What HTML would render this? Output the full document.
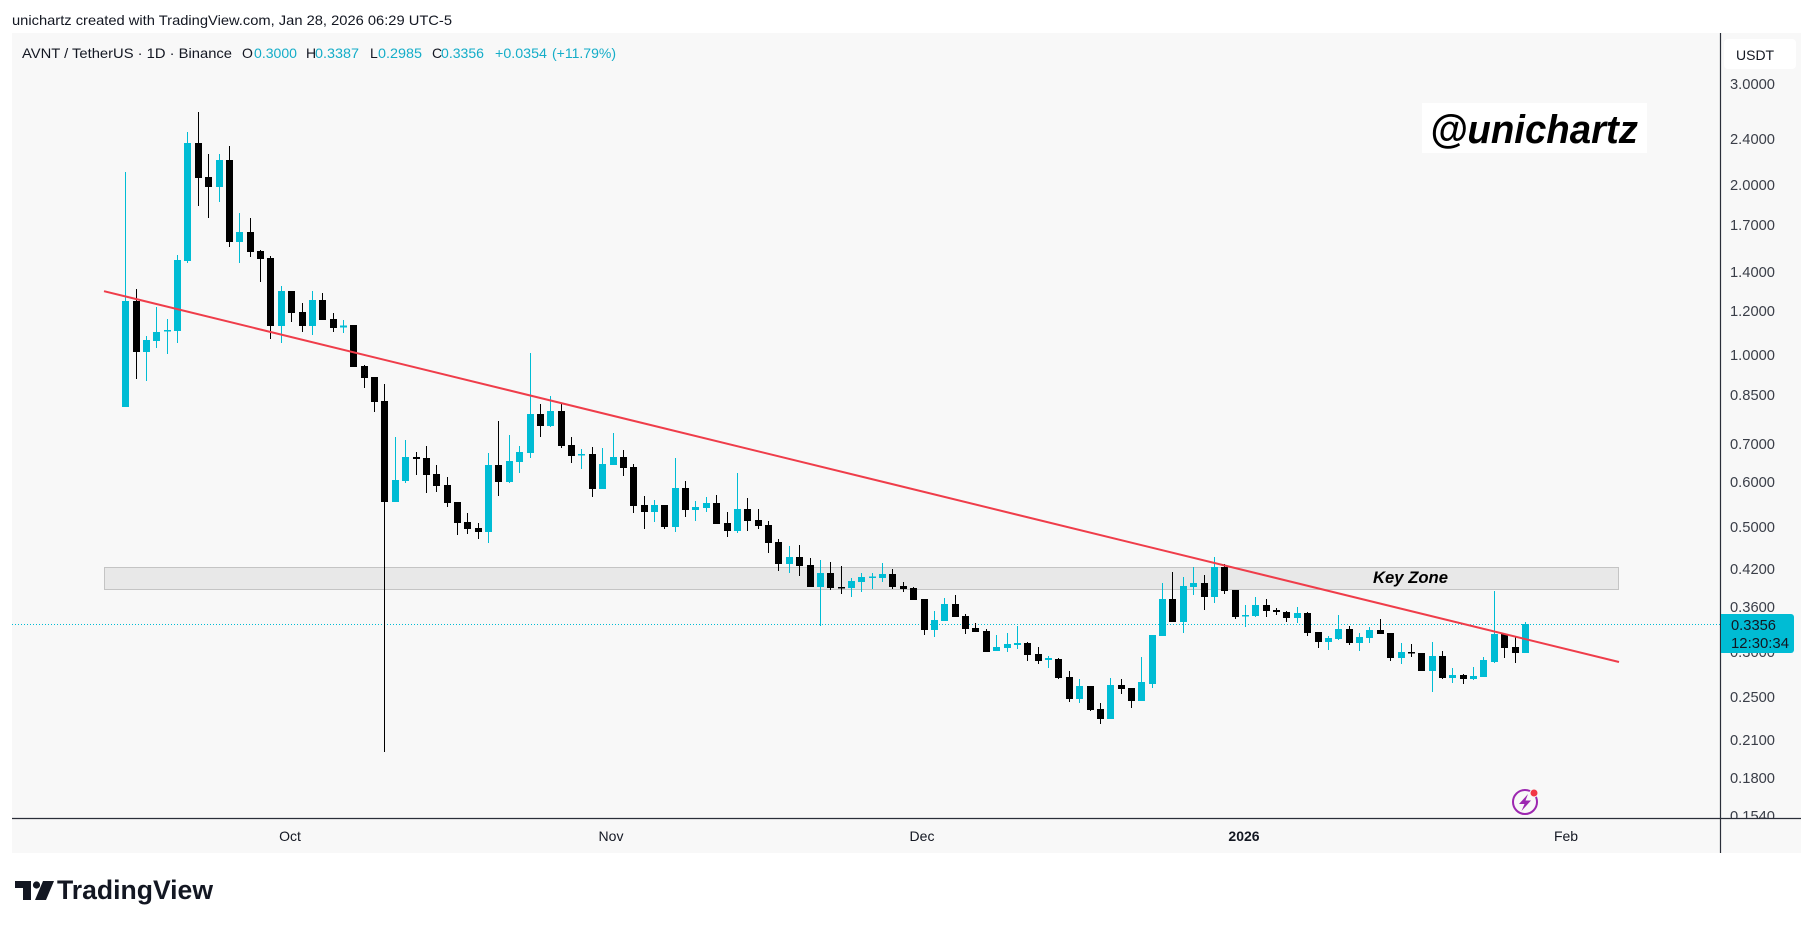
<!DOCTYPE html>
<html><head><meta charset="utf-8"><style>
html,body{margin:0;padding:0;background:#fff;}
svg{display:block;}
text{font-family:"Liberation Sans",sans-serif;}
</style></head><body>
<svg width="1814" height="928" viewBox="0 0 1814 928" xmlns="http://www.w3.org/2000/svg">
<defs><clipPath id="cp"><rect x="12" y="33" width="1708" height="785"/></clipPath>
<clipPath id="ap"><rect x="1721" y="33" width="80" height="785"/></clipPath></defs>
<rect x="0" y="0" width="1814" height="928" fill="#ffffff"/>
<text x="12" y="25" font-size="14" fill="#131722" textLength="440" lengthAdjust="spacingAndGlyphs">unichartz created with TradingView.com, Jan 28, 2026 06:29 UTC-5</text>
<rect x="12" y="33" width="1789" height="820" fill="#f8f8f8"/>
<g font-size="14">
<text x="22" y="58" fill="#131722" textLength="210" lengthAdjust="spacingAndGlyphs">AVNT / TetherUS · 1D · Binance</text>
<text x="242" y="58" fill="#131722">O</text><text x="254" y="58" fill="#14adc8" textLength="43" lengthAdjust="spacingAndGlyphs">0.3000</text>
<text x="306" y="58" fill="#131722">H</text><text x="315" y="58" fill="#14adc8" textLength="44" lengthAdjust="spacingAndGlyphs">0.3387</text>
<text x="370" y="58" fill="#131722">L</text><text x="378" y="58" fill="#14adc8" textLength="44" lengthAdjust="spacingAndGlyphs">0.2985</text>
<text x="432" y="58" fill="#131722">C</text><text x="441" y="58" fill="#14adc8" textLength="43" lengthAdjust="spacingAndGlyphs">0.3356</text>
<text x="495" y="58" fill="#14adc8" textLength="52" lengthAdjust="spacingAndGlyphs">+0.0354</text>
<text x="552" y="58" fill="#14adc8" textLength="64" lengthAdjust="spacingAndGlyphs">(+11.79%)</text>
</g>
<g clip-path="url(#cp)">
<rect x="1422" y="103" width="225" height="50" fill="#ffffff"/>
<text x="1430" y="143" font-size="40" font-weight="bold" font-style="italic" fill="#000" textLength="208" lengthAdjust="spacingAndGlyphs">@unichartz</text>
<rect x="104.5" y="567.5" width="1514" height="22" fill="#e8e8e8" stroke="#c4c4c4" stroke-width="1"/>
<text x="1373" y="583" font-size="17" font-weight="bold" font-style="italic" fill="#000" textLength="75" lengthAdjust="spacingAndGlyphs">Key Zone</text>
<line x1="12" y1="624.5" x2="1720" y2="624.5" stroke="#00bcd4" stroke-width="1" stroke-dasharray="1 2"/>
<path fill="none" stroke="#00bcd4" stroke-width="1" d="M125.5 172V407M146.5 336V381M156.5 307V348M167.5 319V354M177.5 255V343M187.5 132V263M219.5 154V202M239.5 213V263M281.5 286V343M312.5 291V335M343.5 320V333M395.5 437V502M405.5 440V483M488.5 453V543M509.5 435V483M519.5 446V473M530.5 353V458M550.5 396V427M581.5 449V469M602.5 448V489M613.5 433V465M654.5 500V522M675.5 458V532M695.5 501V521M706.5 497V512M737.5 473V533M789.5 546V573M820.5 560V626M851.5 578V597M861.5 573V592M872.5 573V589M882.5 563V582M934.5 611V637M944.5 598V621M996.5 635V651M1007.5 633V652M1017.5 626V649M1048.5 656V668M1079.5 679V703M1110.5 678V719M1141.5 657V701M1152.5 635V688M1162.5 583V636M1183.5 577V633M1193.5 567V595M1214.5 557V603M1245.5 605V627M1255.5 597V617M1297.5 607V623M1328.5 636V650M1338.5 615V640M1359.5 633V651M1369.5 627V643M1401.5 643V664M1432.5 642V692M1452.5 668V683M1473.5 667V680M1483.5 657V677M1494.5 591V663M1525.5 622V653"/>
<path fill="none" stroke="#000" stroke-width="1" d="M136.5 289V379M198.5 112V206M208.5 154V218M229.5 146V247M250.5 218V257M260.5 250V282M270.5 256V339M291.5 291V322M302.5 303V332M322.5 293V320M333.5 313V332M353.5 325V367M364.5 365V388M374.5 377V412M384.5 384V752M416.5 452V475M426.5 446V493M436.5 465V492M447.5 477V507M457.5 502V535M467.5 513V534M478.5 523V539M498.5 421V496M540.5 404V437M561.5 403V448M571.5 437V463M592.5 447V497M623.5 450V476M633.5 464V513M644.5 496V529M664.5 505V529M685.5 481V517M716.5 495V524M727.5 512V537M747.5 498V531M758.5 509V529M768.5 521V553M778.5 539V571M799.5 545V576M810.5 558V587M830.5 562V590M841.5 566V594M892.5 569V589M903.5 582V592M913.5 587V600M924.5 599V635M955.5 595V617M965.5 614V634M975.5 623V632M986.5 629V652M1027.5 642V661M1038.5 647V664M1058.5 658V679M1069.5 671V702M1090.5 686V711M1100.5 703V724M1121.5 679V694M1131.5 688V708M1172.5 572V622M1204.5 575V610M1224.5 564V594M1235.5 590V619M1266.5 599V617M1276.5 608V615M1286.5 611V622M1307.5 612V636M1318.5 632V648M1349.5 626V645M1380.5 619V634M1390.5 633V661M1411.5 644V657M1421.5 653V671M1442.5 651V679M1463.5 674V684M1504.5 634V658M1515.5 637V663"/>
<g fill="#00bcd4">
<rect x="122" y="301" width="7" height="106"/><rect x="143" y="340" width="7" height="12"/><rect x="153" y="332" width="7" height="9"/><rect x="164" y="330" width="7" height="1.5"/><rect x="174" y="260" width="7" height="71"/><rect x="184" y="143" width="7" height="118"/><rect x="216" y="160" width="7" height="27"/><rect x="236" y="232" width="7" height="10"/><rect x="278" y="291" width="7" height="35"/><rect x="309" y="300" width="7" height="26"/><rect x="340" y="325.5" width="7" height="2"/><rect x="392" y="480" width="7" height="22"/><rect x="402" y="457" width="7" height="24"/><rect x="485" y="465" width="7" height="67"/><rect x="506" y="461" width="7" height="21"/><rect x="516" y="452" width="7" height="10"/><rect x="527" y="414" width="7" height="39"/><rect x="547" y="411" width="7" height="15"/><rect x="578" y="454" width="7" height="1.5"/><rect x="599" y="464" width="7" height="25"/><rect x="610" y="457" width="7" height="8"/><rect x="651" y="505" width="7" height="7"/><rect x="672" y="488" width="7" height="39"/><rect x="692" y="507" width="7" height="3"/><rect x="703" y="503" width="7" height="5"/><rect x="734" y="509" width="7" height="22"/><rect x="786" y="557" width="7" height="7"/><rect x="817" y="573" width="7" height="14"/><rect x="848" y="581" width="7" height="7"/><rect x="858" y="577" width="7" height="5"/><rect x="869" y="576.5" width="7" height="1.5"/><rect x="879" y="574" width="7" height="4"/><rect x="931" y="620" width="7" height="10"/><rect x="941" y="604" width="7" height="17"/><rect x="993" y="647" width="7" height="4"/><rect x="1004" y="644" width="7" height="4"/><rect x="1014" y="643" width="7" height="2"/><rect x="1045" y="658" width="7" height="2"/><rect x="1076" y="686" width="7" height="13"/><rect x="1107" y="685" width="7" height="34"/><rect x="1138" y="682" width="7" height="19"/><rect x="1149" y="635" width="7" height="49"/><rect x="1159" y="599" width="7" height="37"/><rect x="1180" y="586" width="7" height="36"/><rect x="1190" y="583" width="7" height="4"/><rect x="1211" y="567" width="7" height="30"/><rect x="1242" y="615" width="7" height="1.5"/><rect x="1252" y="605" width="7" height="11"/><rect x="1294" y="613" width="7" height="5"/><rect x="1325" y="638" width="7" height="4"/><rect x="1335" y="629" width="7" height="10"/><rect x="1356" y="637" width="7" height="6"/><rect x="1366" y="630" width="7" height="8"/><rect x="1398" y="652" width="7" height="6"/><rect x="1429" y="656" width="7" height="15"/><rect x="1449" y="675" width="7" height="3"/><rect x="1470" y="676" width="7" height="3"/><rect x="1480" y="660" width="7" height="17"/><rect x="1491" y="634" width="7" height="28"/><rect x="1522" y="624" width="7" height="29"/>
</g>
<g fill="#000">
<rect x="133" y="301" width="7" height="51"/><rect x="195" y="143" width="7" height="35"/><rect x="205" y="177" width="7" height="10"/><rect x="226" y="160" width="7" height="82"/><rect x="247" y="232" width="7" height="20"/><rect x="257" y="251" width="7" height="8"/><rect x="267" y="258" width="7" height="68"/><rect x="288" y="291" width="7" height="22"/><rect x="299" y="312" width="7" height="14"/><rect x="319" y="300" width="7" height="20"/><rect x="330" y="319" width="7" height="9"/><rect x="350" y="325" width="7" height="42"/><rect x="361" y="366" width="7" height="12"/><rect x="371" y="377" width="7" height="25"/><rect x="381" y="401" width="7" height="101"/><rect x="413" y="457" width="7" height="2"/><rect x="423" y="458" width="7" height="17"/><rect x="433" y="474" width="7" height="12"/><rect x="444" y="485" width="7" height="18"/><rect x="454" y="502" width="7" height="21"/><rect x="464" y="522" width="7" height="7"/><rect x="475" y="528" width="7" height="4"/><rect x="495" y="465" width="7" height="17"/><rect x="537" y="414" width="7" height="12"/><rect x="558" y="411" width="7" height="35"/><rect x="568" y="445" width="7" height="11"/><rect x="589" y="454" width="7" height="35"/><rect x="620" y="457" width="7" height="11"/><rect x="630" y="467" width="7" height="39"/><rect x="641" y="505" width="7" height="7"/><rect x="661" y="505" width="7" height="22"/><rect x="682" y="488" width="7" height="22"/><rect x="713" y="503" width="7" height="21"/><rect x="724" y="523" width="7" height="8"/><rect x="744" y="509" width="7" height="12"/><rect x="755" y="520" width="7" height="6"/><rect x="765" y="525" width="7" height="18"/><rect x="775" y="542" width="7" height="22"/><rect x="796" y="557" width="7" height="9"/><rect x="807" y="565" width="7" height="22"/><rect x="827" y="573" width="7" height="15"/><rect x="838" y="587" width="7" height="1.5"/><rect x="889" y="574" width="7" height="13"/><rect x="900" y="586" width="7" height="3"/><rect x="910" y="588" width="7" height="12"/><rect x="921" y="599" width="7" height="31"/><rect x="952" y="604" width="7" height="13"/><rect x="962" y="616" width="7" height="13"/><rect x="972" y="628" width="7" height="4"/><rect x="983" y="631" width="7" height="21"/><rect x="1024" y="643" width="7" height="12"/><rect x="1035" y="654" width="7" height="7"/><rect x="1055" y="659" width="7" height="19"/><rect x="1066" y="677" width="7" height="22"/><rect x="1087" y="686" width="7" height="24"/><rect x="1097" y="709" width="7" height="10"/><rect x="1118" y="685" width="7" height="4"/><rect x="1128" y="688" width="7" height="13"/><rect x="1169" y="599" width="7" height="23"/><rect x="1201" y="583" width="7" height="14"/><rect x="1221" y="567" width="7" height="24"/><rect x="1232" y="590" width="7" height="27"/><rect x="1263" y="605" width="7" height="6"/><rect x="1273" y="610" width="7" height="2"/><rect x="1283" y="612" width="7" height="6"/><rect x="1304" y="613" width="7" height="20"/><rect x="1315" y="632" width="7" height="10"/><rect x="1346" y="629" width="7" height="14"/><rect x="1377" y="630" width="7" height="4"/><rect x="1387" y="633" width="7" height="25"/><rect x="1408" y="652" width="7" height="1.5"/><rect x="1418" y="653" width="7" height="18"/><rect x="1439" y="656" width="7" height="22"/><rect x="1460" y="675" width="7" height="4"/><rect x="1501" y="634" width="7" height="14"/><rect x="1512" y="647" width="7" height="6"/>
</g>
<line x1="104" y1="291.2" x2="1619" y2="662" stroke="#ef3d4a" stroke-width="2"/>
<circle cx="1525" cy="802" r="12" fill="none" stroke="#9c27b0" stroke-width="2"/>
<path d="M1528 794 L1519 804 H1524.5 L1521.5 811 L1531 800.5 H1525.5 Z" fill="#9c27b0"/>
<circle cx="1534" cy="793" r="4" fill="#f23645" stroke="#f8f8f8" stroke-width="1"/>
</g>
<line x1="1720.5" y1="33" x2="1720.5" y2="853" stroke="#2a2e39" stroke-width="1.2"/>
<line x1="12" y1="818.5" x2="1801" y2="818.5" stroke="#2a2e39" stroke-width="1.2"/>
<rect x="1724" y="39" width="72" height="30" rx="4" fill="#ffffff"/>
<text x="1736" y="60" font-size="14" fill="#131722">USDT</text>
<g font-size="15" fill="#3a3e48" clip-path="url(#ap)">
<text x="1730" y="89" textLength="45" lengthAdjust="spacingAndGlyphs">3.0000</text>
<text x="1730" y="144" textLength="45" lengthAdjust="spacingAndGlyphs">2.4000</text>
<text x="1730" y="190" textLength="45" lengthAdjust="spacingAndGlyphs">2.0000</text>
<text x="1730" y="230" textLength="45" lengthAdjust="spacingAndGlyphs">1.7000</text>
<text x="1730" y="277" textLength="45" lengthAdjust="spacingAndGlyphs">1.4000</text>
<text x="1730" y="316" textLength="45" lengthAdjust="spacingAndGlyphs">1.2000</text>
<text x="1730" y="360" textLength="45" lengthAdjust="spacingAndGlyphs">1.0000</text>
<text x="1730" y="400" textLength="45" lengthAdjust="spacingAndGlyphs">0.8500</text>
<text x="1730" y="449" textLength="45" lengthAdjust="spacingAndGlyphs">0.7000</text>
<text x="1730" y="487" textLength="45" lengthAdjust="spacingAndGlyphs">0.6000</text>
<text x="1730" y="532" textLength="45" lengthAdjust="spacingAndGlyphs">0.5000</text>
<text x="1730" y="574" textLength="45" lengthAdjust="spacingAndGlyphs">0.4200</text>
<text x="1730" y="612" textLength="45" lengthAdjust="spacingAndGlyphs">0.3600</text>
<text x="1730" y="657" textLength="45" lengthAdjust="spacingAndGlyphs">0.3000</text>
<text x="1730" y="702" textLength="45" lengthAdjust="spacingAndGlyphs">0.2500</text>
<text x="1730" y="745" textLength="45" lengthAdjust="spacingAndGlyphs">0.2100</text>
<text x="1730" y="783" textLength="45" lengthAdjust="spacingAndGlyphs">0.1800</text>
<text x="1730" y="821" textLength="45" lengthAdjust="spacingAndGlyphs">0.1540</text>
</g>
<path d="M1721 614 H1791 a3 3 0 0 1 3 3 V650 a3 3 0 0 1 -3 3 H1721 Z" fill="#00bcd4"/>
<text x="1731" y="630" font-size="15" fill="#131722" textLength="45" lengthAdjust="spacingAndGlyphs">0.3356</text>
<text x="1731" y="648" font-size="15" fill="#131722" textLength="58" lengthAdjust="spacingAndGlyphs">12:30:34</text>
<g font-size="14" fill="#131722" text-anchor="middle">
<text x="290" y="841">Oct</text>
<text x="611" y="841">Nov</text>
<text x="922" y="841">Dec</text>
<text x="1244" y="841" font-weight="bold">2026</text>
<text x="1566" y="841">Feb</text>
</g>
<path d="M15 881 H31 V900 H23 V888 H15 Z" fill="#131722"/>
<circle cx="36.5" cy="885" r="3.6" fill="#131722"/>
<path d="M43 881 H54 L46 900 H35 Z" fill="#131722"/>
<text x="57" y="899" font-size="27" font-weight="bold" fill="#131722" textLength="156" lengthAdjust="spacingAndGlyphs">TradingView</text>
</svg>
</body></html>
